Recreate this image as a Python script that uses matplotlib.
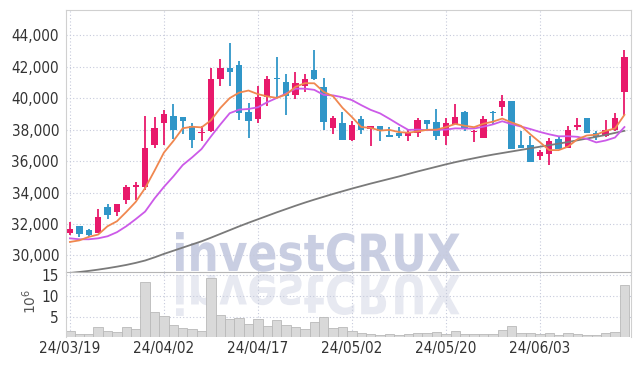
import numpy as np
import pandas as pd
import matplotlib
matplotlib.use('Agg')
import matplotlib.pyplot as plt
from matplotlib.textpath import TextPath
from matplotlib.font_manager import FontProperties, findfont
from matplotlib.patches import PathPatch
from matplotlib.transforms import Affine2D

# trading days (yy/mm/dd)
dates = ['24/03/19', '24/03/20', '24/03/21', '24/03/22', '24/03/25', '24/03/26', '24/03/27',
         '24/03/28', '24/03/29', '24/04/01', '24/04/02', '24/04/03', '24/04/04', '24/04/05',
         '24/04/08', '24/04/09', '24/04/11', '24/04/12', '24/04/15', '24/04/16', '24/04/17',
         '24/04/18', '24/04/19', '24/04/22', '24/04/23', '24/04/24', '24/04/25', '24/04/26',
         '24/04/29', '24/04/30', '24/05/02', '24/05/03', '24/05/07', '24/05/08', '24/05/09',
         '24/05/10', '24/05/13', '24/05/14', '24/05/16', '24/05/17', '24/05/20', '24/05/21',
         '24/05/22', '24/05/23', '24/05/24', '24/05/27', '24/05/28', '24/05/29', '24/05/30',
         '24/05/31', '24/06/03', '24/06/04', '24/06/05', '24/06/07', '24/06/10', '24/06/11',
         '24/06/12', '24/06/13', '24/06/14', '24/06/17']

opens = [31430, 31860, 31600, 31430, 33070, 32770, 33500, 34380, 34370, 36990,
         38400, 38890, 38820, 38250, 37760, 37930, 41230, 41940, 42080, 39120,
         38680, 40080, 41310, 41020, 40170, 40760, 41760, 40720, 38100, 38420,
         37310, 38700, 38040, 38200, 37670, 37780, 37570, 37780, 38630, 38500,
         37570, 38380, 39120, 37820, 37460, 39140, 39420, 39800, 37020, 37020,
         36290, 36440, 37400, 36820, 38140, 38740, 37780, 37570, 37950, 40380]
highs = [32130, 31900, 31670, 32950, 33270, 33260, 34480, 34650, 38890, 38800,
         39270, 39640, 38830, 38420, 38200, 41940, 42510, 43530, 42360, 39700,
         40800, 41400, 42640, 41510, 41680, 41510, 43040, 41300, 38840, 39100,
         38520, 38840, 38260, 38240, 38140, 38140, 37990, 38740, 38640, 39320,
         38740, 39640, 39210, 37950, 38840, 39160, 40190, 39830, 37930, 37610,
         36720, 37460, 37560, 38250, 38740, 38760, 37880, 38590, 39060, 43060]
lows = [31300, 31150, 31150, 31400, 32290, 32540, 33300, 33500, 34150, 36820,
        36990, 37400, 37720, 36820, 37250, 37820, 40760, 40760, 38590, 37460,
        38420, 39530, 40020, 38950, 39970, 40380, 41150, 37990, 37740, 37310,
        37250, 37740, 36970, 37290, 37500, 37460, 37250, 37560, 38040, 37310,
        36990, 38350, 37880, 37180, 37460, 38310, 38840, 36760, 36840, 35930,
        36080, 35760, 36760, 36820, 37990, 37780, 37310, 37560, 37890, 38950]
closes = [31670, 31350, 31290, 32420, 32560, 33250, 34330, 34470, 36820, 38070,
          39010, 38000, 38520, 37310, 37860, 41230, 41940, 41660, 39060, 38520,
          40080, 41230, 41190, 40120, 40980, 41230, 41190, 38460, 38740, 37310,
          38310, 37990, 38200, 37880, 37530, 37610, 37780, 38630, 38380, 37570,
          38420, 38800, 38040, 37930, 38680, 39060, 39800, 36780, 36860, 35970,
          36590, 37290, 36760, 37990, 38310, 37780, 37530, 37990, 38740, 42640]
# volume, millions of shares
volumes = [1.77, 1.06, 1.06, 2.71, 1.70, 1.53, 2.71, 2.24, 13.25, 6.18,
           5.31, 3.18, 2.48, 2.24, 1.77, 14.2, 5.54, 4.60, 4.83, 3.42,
           4.60, 2.95, 4.36, 3.18, 2.63, 2.17, 3.82, 5.07, 2.48, 2.71,
           1.77, 1.30, 0.99, 0.75, 1.06, 0.90, 1.13, 1.23, 1.23, 1.46,
           1.13, 1.70, 1.06, 1.06, 0.99, 1.06, 2.00, 2.95, 1.30, 1.23,
           1.06, 1.30, 0.75, 1.30, 0.99, 0.75, 0.83, 1.30, 1.53, 12.6]

# moving averages before enough closes are in the window
ma5_head = [30860, 30960, 31180, 31330]
ma10_head = [31090, 31030, 31030, 31090, 31220, 31480, 31860, 32310, 32790]
# long moving average (grey)
ma_long = [28890, 28950, 29020, 29100, 29190, 29290, 29400, 29530, 29680, 29880,
           30100, 30300, 30500, 30700, 30900, 31130, 31370, 31610, 31850, 32080,
           32300, 32520, 32740, 32950, 33160, 33360, 33550, 33730, 33910, 34080,
           34250, 34410, 34570, 34720, 34870, 35020, 35180, 35340, 35490, 35640,
           35790, 35930, 36060, 36180, 36300, 36410, 36510, 36610, 36710, 36810,
           36910, 37010, 37110, 37210, 37320, 37430, 37540, 37660, 37790, 37920]

price_ticks = [30000, 32000, 34000, 36000, 38000, 40000, 42000, 44000]
vol_ticks = [5, 10, 15]

UP = '#e8196b'
DOWN = '#3096c8'
GRID = '#c6cadb'

# narrow face for the axis labels if one is installed, else a compact sans
label_font = FontProperties(family='Liberation Sans', size=10.5)
try:
    path = findfont(FontProperties(family='DejaVu Sans', stretch='condensed'),
                    fallback_to_default=False)
    if 'Condensed' in path:
        label_font = FontProperties(fname=path, size=11)
except ValueError:
    pass

x = np.arange(len(dates))
o = np.array(opens); c = np.array(closes)
h = np.array(highs); l = np.array(lows)
up = c >= o
cs = pd.Series(closes)
ma5 = cs.rolling(5).mean().to_numpy()
ma5[:len(ma5_head)] = ma5_head
ma10 = cs.rolling(10).mean().to_numpy()
ma10[:len(ma10_head)] = ma10_head

fig = plt.figure(figsize=(6.39, 3.66), dpi=100)
W, H = 639, 366
left, right = 66 / W, 631 / W
ax = fig.add_axes([left, (H - 272) / H, right - left, 262 / H])
axv = fig.add_axes([left, (H - 337) / H, right - left, 65 / H], sharex=ax)
for a in (ax, axv):
    a.set_facecolor('none')

# watermark with reflection
tp = TextPath((0, 0), 'investCRUX', size=1,
              prop=FontProperties(family='DejaVu Sans', weight='bold'))
ext = tp.get_extents()
sx = 284 / ext.width
sy = 39 / ext.y1
fig.add_artist(PathPatch(tp, transform=Affine2D().scale(sx, sy).translate(176 - ext.x0 * sx, H - 271),
                         facecolor='#c9cee2', edgecolor='none', zorder=-2))
fig.add_artist(PathPatch(tp, transform=Affine2D().scale(sx, -sy * 1.05).translate(176 - ext.x0 * sx, H - 275),
                         facecolor='#e7e9f1', edgecolor='none', zorder=-2))

# candles
colors = np.where(up, UP, DOWN)
ax.vlines(x, l, h, colors=colors, linewidth=1.3, zorder=2)
ax.bar(x, np.abs(c - o), bottom=np.minimum(o, c), width=0.68, color=colors, zorder=2)

ax.plot(x, ma_long, color='#7a7a7a', lw=1.3, zorder=3)
ax.plot(x, ma10, color='#cc5ae8', lw=1.3, zorder=3)
ax.plot(x, ma5, color='#f0874f', lw=1.3, zorder=3)

axv.bar(x, volumes, width=1.0, color='#d9d9d9', edgecolor='#b9b9b9', linewidth=0.6, zorder=2)

ax.set_ylim(28950, 45600)
ax.set_yticks(price_ticks, [f'{v:,}' for v in price_ticks])
axv.set_ylim(0.35, 15.7)
axv.set_yticks(vol_ticks, [str(v) for v in vol_ticks])
ax.set_xlim(-0.42, 59.7)
xt = list(range(0, len(dates), 10))
axv.set_xticks(xt, [dates[i] for i in xt])

for a in (ax, axv):
    a.grid(True, color=GRID, linestyle=(0, (1, 2)), linewidth=0.8, zorder=0)
    a.set_axisbelow(True)
    a.tick_params(length=0, labelcolor='#333333', pad=5)
    for s in a.spines.values():
        s.set_color('#d0d0d0')
        s.set_linewidth(0.8)
    for t in a.get_xticklabels() + a.get_yticklabels():
        t.set_fontproperties(label_font)
ax.tick_params(axis='x', labelbottom=False)
ax.spines['bottom'].set_color('#b5b5b5')
axv.spines['top'].set_visible(False)
axv.spines['bottom'].set_visible(False)
axv.tick_params(axis='x', pad=3)

axv.set_ylabel('10$^6$', color='#555555', fontsize=10)
axv.yaxis.set_label_coords(-0.047, 0.55)

fig.savefig('out.png', dpi=100)
